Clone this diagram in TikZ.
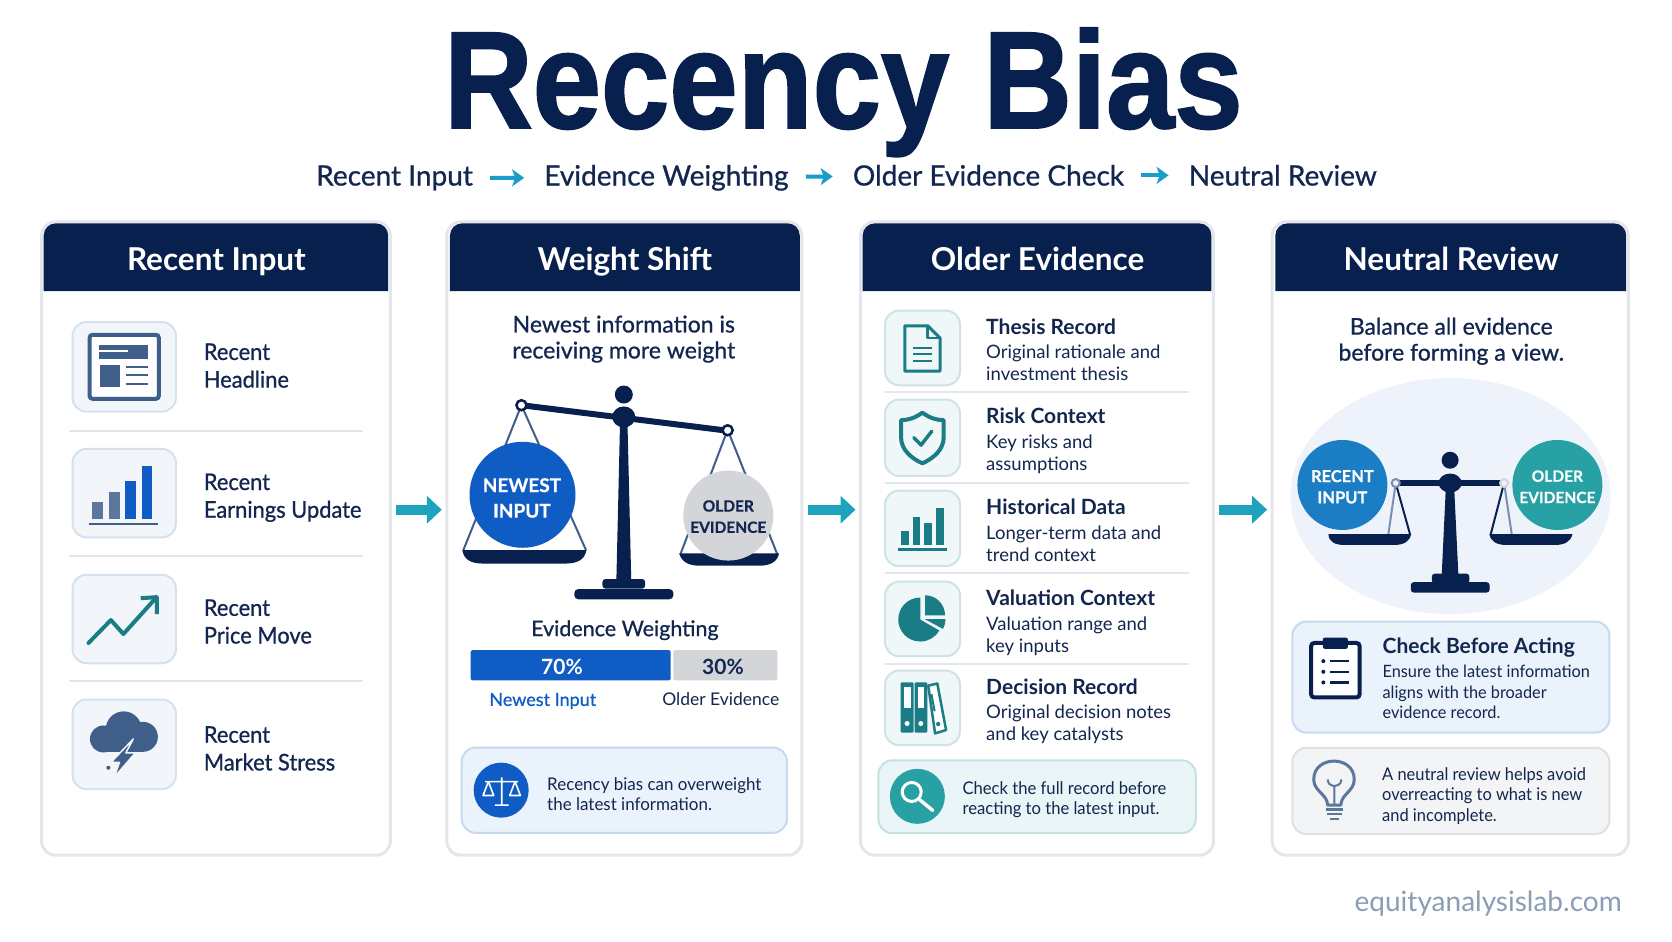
\documentclass[tikz,border=0pt]{standalone}
\usepackage{fontspec}
\setmainfont{Lato}
\newfontfamily\medfont[FakeBold=0.8]{Lato}
\newfontfamily\ballfont[FakeBold=0.6]{Lato Bold}
\newfontfamily\titlefont[FakeBold=1.5]{Liberation Sans Bold}
\usetikzlibrary{arrows.meta,calc,positioning,fit}

\definecolor{navy}{HTML}{08204D}
\definecolor{inktext}{HTML}{12264F}
\definecolor{panelline}{HTML}{E3E6EA}
\definecolor{flowteal}{HTML}{1DA3BE}
\definecolor{stepblue}{HTML}{1B9DC9}
\definecolor{slate}{HTML}{3F5F8A}
\definecolor{strongblue}{HTML}{0F5CC4}
\definecolor{softgray}{HTML}{D3D5D9}
\definecolor{darkteal}{HTML}{1A7D86}
\definecolor{midteal}{HTML}{27A1A4}
\definecolor{midblue}{HTML}{1B7DC4}
\definecolor{bluetileline}{HTML}{D6E1EE}
\definecolor{bluetilefill}{HTML}{F2F6FB}
\definecolor{tealtileline}{HTML}{CFE3E5}
\definecolor{tealtilefill}{HTML}{EFF7F8}
\definecolor{bluenoteline}{HTML}{C6D9F0}
\definecolor{bluenotefill}{HTML}{EAF2FB}
\definecolor{tealnoteline}{HTML}{C5E1E2}
\definecolor{tealnotefill}{HTML}{E9F5F6}
\definecolor{graynoteline}{HTML}{DFE1E5}
\definecolor{graynotefill}{HTML}{F3F4F6}
\definecolor{haloblue}{HTML}{EEF3FB}
\definecolor{sitegray}{HTML}{8A9DB5}

\tikzset{
  panelbox/.style={draw=panelline,line width=3pt,fill=white,rounded corners=14pt,inner sep=0pt,outer sep=0pt},
  bluetile/.style={draw=bluetileline,line width=2pt,fill=bluetilefill,rounded corners=14pt,inner sep=0pt,outer sep=0pt},
  tealtile/.style={draw=tealtileline,line width=2pt,fill=tealtilefill,rounded corners=14pt,inner sep=0pt,outer sep=0pt},
  bluenote/.style={draw=bluenoteline,line width=2pt,fill=bluenotefill,rounded corners=14pt,inner sep=0pt,outer sep=0pt},
  tealnote/.style={draw=tealnoteline,line width=2pt,fill=tealnotefill,rounded corners=14pt,inner sep=0pt,outer sep=0pt},
  graynote/.style={draw=graynoteline,line width=2pt,fill=graynotefill,rounded corners=14pt,inner sep=0pt,outer sep=0pt},
  headtext/.style={text=white,font=\fontsize{31.5}{34}\selectfont\bfseries,anchor=base,inner sep=0pt},
  steptext/.style={text=inktext,font=\fontsize{28}{32}\medfont,inner sep=0pt},
  listtext/.style={text=inktext,font=\fontsize{23}{27.7}\medfont,align=left,anchor=base west,xscale=.95,inner sep=0pt},
  leadtext/.style={text=inktext,font=\fontsize{23}{26}\medfont,align=center,inner sep=0pt},
  recordhead/.style={text=inktext,font=\fontsize{21}{24}\selectfont\bfseries,anchor=base west,inner sep=0pt},
  recordtext/.style={text=inktext,font=\fontsize{18.5}{22.2}\selectfont,align=left,anchor=base west,inner sep=0pt},
  notetext/.style={text=inktext,font=\fontsize{17.5}{20.5}\selectfont,align=left,anchor=west,inner sep=0pt},
  balltext/.style={font=\fontsize{19}{25.5}\ballfont,align=center,inner sep=0pt},
  flowarrow/.style={draw=flowteal,line width=10pt,-{Triangle[length=15pt,width=27pt]},shorten <=6pt,shorten >=5pt},
  steparrow/.style={draw=stepblue,line width=4pt,-{Stealth[length=12pt,width=17pt,inset=3pt]},shorten <=17pt,shorten >=20pt},
  divider/.style={draw=panelline,line width=2pt},
  stringline/.style={draw=slate,line width=2pt},
  iconline/.style={draw=darkteal,line width=4pt,fill=none,line join=round}
}

\begin{document}
\begin{tikzpicture}[x=1.0663pt,y=-1.0663pt]
\useasboundingbox (0,0) rectangle (1568,882.5);

% title and steps
\node[text=navy,inner sep=0pt,xscale=.89,font=\fontsize{138}{140}\titlefont,anchor=base] (maintitle) at (791,120) {Recency Bias};
\node[steptext,anchor=base] (stepA) at (370,174) {Recent Input};
\node[steptext,anchor=base] (stepB) at (625,174) {Evidence Weighting};
\node[steptext,anchor=base] (stepC) at (927,174) {Older Evidence Check};
\node[steptext,anchor=base] (stepD) at (1203,174) {Neutral Review};
\foreach \p/\q in {stepA/stepB,stepB/stepC,stepC/stepD}
  \draw[steparrow] (\p) -- (\q);

% panels
\node[panelbox,fit={(39,208) (366,802)}] (panelA) {};
\node[panelbox,fit={(419,208) (752,802)}] (panelB) {};
\node[panelbox,fit={(807,208) (1138,802)}] (panelC) {};
\node[panelbox,fit={(1193,208) (1527,802)}] (panelD) {};
\foreach \l/\r in {41/364,422/750,809/1136,1196/1525}
  \fill[navy] (\l,273) [rounded corners=12pt] -- (\l,209.5) -- (\r,209.5) [sharp corners] -- (\r,273) -- cycle;
\node[headtext] (headA) at (203,254) {Recent Input};
\node[headtext] (headB) at (586,254) {Weight Shift};
\node[headtext] (headC) at (973,254) {Older Evidence};
\node[headtext] (headD) at (1361,254) {Neutral Review};

\coordinate (flowline) at (0,478);
\foreach \p/\q in {panelA/panelB,panelB/panelC,panelC/panelD}
  \draw[flowarrow] (\p.east |- flowline) -- (\q.west |- flowline);

% recent input rows
\foreach \i/\a/\b/\m/\txt in {1/302/386/363.5/{Recent\\Headline},2/421/504/485.5/{Recent\\Earnings Update},3/539/622/603.5/{Recent\\Price Move},4/656/740/722.5/{Recent\\Market Stress}} {
  \node[bluetile,fit={(68,\a) (165,\b)}] (tile\i) {};
  \node[listtext] (rowtext\i) at (191,\m) {\txt};
}
\foreach \y in {404.5,521.5,639}
  \draw[divider] (65,\y) -- (340,\y);

% newspaper
\draw[draw=slate,line width=4pt,fill=white,rounded corners=3pt] (84,314) rectangle (149,374);
\fill[slate] (93,324) rectangle (139,337);
\draw[white,line width=1.5pt] (93,329) -- (120,329);
\fill[slate] (94,342) rectangle (113,363);
\foreach \y in {344,352,360}
  \draw[slate,line width=2.2pt] (118,\y) -- (139,\y);
% bars
\draw[slate,line width=2.5pt] (83,491.5) -- (148,491.5);
\fill[slate!85] (86,471) rectangle (97,487);
\fill[slate!85] (102,461) rectangle (113,487);
\fill[strongblue] (117,451) rectangle (128,487);
\fill[strongblue] (133,437) rectangle (143,487);
% trend
\draw[iconline,line cap=round] (83,603) -- (104,581.5) -- (115.7,594.6) -- (146,561);
\draw[iconline] (132,561) -- (147,560) -- (147,576);
% storm
\fill[slate] (116,684) circle[radius=18pt];
\fill[slate] (97,693) circle[radius=13.5pt];
\fill[slate] (134,691) circle[radius=15pt];
\fill[slate] (97,690) rectangle (134,705);
\filldraw[fill=slate,draw=bluetilefill,line width=1.5pt,line join=round] (125,693) -- (104,715) -- (112,715) -- (107,729) -- (127,706) -- (118,706) -- cycle;
\fill[slate] (101.6,720) circle[radius=2pt];

% weight shift panel
\node[leadtext] (leadB) at (585,318) {Newest information is\\receiving more weight};
\draw[stringline] (489,380) -- (434.5,516);
\draw[stringline] (489,380) -- (549.6,516);
\draw[stringline] (682.4,403) -- (638,520);
\draw[stringline] (682.4,403) -- (729,520);
\fill[navy] (433.6,516) -- (550,516) .. controls (548,526) and (540,528.5) .. (530,528.5) -- (453,528.5) .. controls (442,528.5) and (435,525) .. cycle;
\fill[navy] (637,519) -- (730.6,519) .. controls (729,527) and (722,530.5) .. (712,530.5) -- (656,530.5) .. controls (646,530.5) and (639,527) .. cycle;
\node[circle,fill=strongblue,minimum size=106pt,inner sep=0pt] (newestball) at (490,464) {};
\node[balltext,text=white] (newestlabel) at (489.5,467) {NEWEST\\INPUT};
\node[circle,fill=softgray,minimum size=90pt,inner sep=0pt] (olderball) at (683,483.5) {};
\node[balltext,text=inktext,font=\fontsize{15.5}{21.3}\ballfont] (olderlabel) at (683,484.5) {OLDER\\EVIDENCE};
\draw[navy,line width=6pt] (489,380) -- (683,404);
\fill[navy] (581.5,395) -- (588.4,395) -- (592,545) -- (578,545) -- cycle;
\fill[navy] (585,370) circle[radius=9pt];
\fill[navy] (585,391) ellipse[x radius=11.5pt,y radius=10.5pt];
\fill[navy,rounded corners=3pt] (565,552) -- (565,543) -- (605,543) -- (605,552) -- cycle;
\fill[navy,rounded corners=4pt] (538.6,562) -- (538.6,552.4) -- (631.5,552.4) -- (631.5,562) -- cycle;
\filldraw[fill=white,draw=navy,line width=2.5pt] (489,380) circle[radius=5pt];
\filldraw[fill=white,draw=navy,line width=2.5pt] (682.4,403.5) circle[radius=5pt];

\node[leadtext,font=\fontsize{21.5}{24}\medfont] (weightcap) at (586,591) {Evidence Weighting};
\fill[strongblue,rounded corners=2pt] (441.4,609.7) rectangle (629,638);
\fill[softgray,rounded corners=2pt] (631.5,609.7) rectangle (729,638);
\node[text=white,font=\fontsize{21}{24}\selectfont\bfseries,inner sep=0pt] (sharenew) at (527,625) {70\%};
\node[text=inktext,font=\fontsize{21}{24}\selectfont\bfseries,inner sep=0pt] (shareold) at (678,625) {30\%};
\node[text=strongblue,font=\fontsize{18}{20}\medfont,anchor=base,inner sep=0pt] (labelnew) at (509,662) {Newest Input};
\node[text=inktext,font=\fontsize{17.5}{20}\selectfont,anchor=base,inner sep=0pt] (labelold) at (676,662) {Older Evidence};

\node[bluenote,fit={(433,701) (738,781)}] (noteB) {};
\node[circle,fill=strongblue,minimum size=55pt,inner sep=0pt] (noteBdisc) at (470,741) {};
\draw[white,line width=1.6pt,line join=round] (470.5,729) -- (470.5,755) (464,755) -- (477,755) (455,733) -- (486,733)
  (458,733) -- (453,746) -- (463,746) -- cycle (483,733) -- (478,746) -- (488,746) -- cycle;
\node[notetext,xscale=.97] (noteBtext) at (513,744.5) {Recency bias can overweight\\the latest information.};

% older evidence rows
\foreach \i/\a/\b/\ty/\sy/\ttl/\txt in {
  1/291.3/361.3/314/357/{Thesis Record}/{Original rationale and\\investment thesis},
  2/374.7/446.3/397/441/{Risk Context}/{Key risks and\\assumptions},
  3/460/531/482.5/527/{Historical Data}/{Longer-term data and\\trend context},
  4/545.5/615.4/567.5/612/{Valuation Context}/{Valuation range and\\key inputs},
  5/628.9/698.8/651/694.5/{Decision Record}/{Original decision notes\\and key catalysts}} {
  \node[tealtile,fit={(830,\a) (900.3,\b)}] (record\i) {};
  \node[recordhead] (recordhead\i) at (924.7,\ty) {\ttl};
  \node[recordtext] (recordtext\i) at (924.7,\sy) {\txt};
}
\foreach \y in {367.4,452.8,537.8,622.4}
  \draw[divider] (830,\y) -- (1115.4,\y);

% document
\draw[iconline,line width=3pt] (848.5,305.5) -- (870,305.5) -- (881.6,317) -- (881.6,348) -- (848.5,348) -- cycle;
\draw[iconline,line width=2.5pt] (870,305.5) -- (870,317) -- (881.6,317);
\foreach \y in {326,332.4,339}
  \draw[darkteal,line width=2pt] (856,\y) -- (874.4,\y);
% shield
\draw[iconline] (865,387) .. controls (858,392) and (852,394) .. (845,394) -- (845,410) .. controls (845,422) and (855,430) .. (865,434.5) .. controls (875,430) and (885,422) .. (885,410) -- (885,394) .. controls (878,394) and (872,392) .. cycle;
\draw[iconline,line width=3.5pt,line cap=round] (857,410.5) -- (863.8,417.4) -- (873.8,404.4);
% bars
\draw[darkteal,line width=2.5pt] (842.5,515.4) -- (888.5,515.4);
\foreach \l/\r/\t in {845.3/852.5/497.5,856.6/863.1/484.5,866.9/874.4/490.6,877.5/885/476.4}
  \fill[darkteal] (\l,\t) rectangle (\r,511);
% pie
\fill[darkteal] (863,581) -- ++(90:22pt) arc[start angle=90,end angle=330,radius=22pt] -- cycle;
\fill[darkteal] (867.5,577) -- ++(90:20pt) arc[start angle=90,end angle=0,radius=20pt] -- cycle;
\fill[darkteal] (867,580.5) -- ++(0:21pt) arc[start angle=0,end angle=-28,radius=21pt] -- cycle;
% binders
\fill[darkteal,rounded corners=1pt] (844.7,640) rectangle (856.7,687);
\fill[darkteal,rounded corners=1pt] (857.7,640) rectangle (869.7,687);
\foreach \l/\r in {848/854,860.5/866.5} {
  \fill[white] (\l,644) rectangle (\r,664);
}
\foreach \x in {850.7,863.5}
  \fill[white] (\x,678.5) circle[radius=2.5pt];
\filldraw[fill=white,draw=darkteal,line width=2.5pt,line join=round] (870.5,643) -- (879,641) -- (887.2,684.6) -- (876.9,687.8) -- cycle;
\draw[darkteal,line width=2pt] (873.5,651) -- (876.5,667);
\fill[darkteal] (879.8,679) circle[radius=2.2pt];

\node[tealnote,fit={(823.8,713) (1121.4,781.4)}] (noteC) {};
\node[circle,fill=midteal,minimum size=55pt,inner sep=0pt] (noteCdisc) at (860.3,746.8) {};
\draw[white,line width=3pt] (855,742.7) circle[radius=9.5pt];
\draw[white,line width=3.5pt,line cap=round] (862.5,750) -- (874.7,760);
\node[notetext,xscale=.95] (noteCtext) at (902.5,750) {Check the full record before\\reacting to the latest input.};

% neutral review panel
\node[leadtext] (leadD) at (1361,320) {Balance all evidence\\before forming a view.};
\fill[haloblue] (1360.2,465.2) ellipse[x radius=160pt,y radius=118pt];
\draw[stringline,draw=slate!70] (1308.9,453) -- (1302,501);
\draw[stringline,draw=navy] (1308.9,453) -- (1322.3,501);
\draw[stringline,draw=navy] (1410.5,453) -- (1398,501);
\draw[stringline,draw=slate!70] (1410.5,453) -- (1417.7,501);
\fill[navy] (1245.8,501) -- (1323.3,501) .. controls (1322,508) and (1316,511) .. (1308,511) -- (1260,511) .. controls (1252,511) and (1246,508) .. cycle;
\fill[navy] (1396.7,501) -- (1474.6,501) .. controls (1473,508) and (1467,511) .. (1459,511) -- (1412,511) .. controls (1404,511) and (1398,508) .. cycle;
\node[circle,fill=midblue,minimum size=90pt,inner sep=0pt] (recentball) at (1258.9,454.8) {};
\node[balltext,text=white,font=\fontsize{16.5}{21.3}\ballfont] (recentlabel) at (1258.9,456.5) {RECENT\\INPUT};
\node[circle,fill=midteal,minimum size=90pt,inner sep=0pt] (evidenceball) at (1460.5,454.8) {};
\node[balltext,text=white,font=\fontsize{15.5}{21.3}\ballfont] (evidencelabel) at (1460.5,456.5) {OLDER\\EVIDENCE};
\draw[navy,line width=6pt] (1308.9,453) -- (1410.5,453);
\fill[navy] (1356,455) -- (1363.6,455) -- (1367.7,540) -- (1352,540) -- cycle;
\fill[navy] (1359.9,431.6) circle[radius=8.5pt];
\fill[navy] (1359.9,453) ellipse[x radius=11.5pt,y radius=9.5pt];
\fill[navy,rounded corners=3pt] (1342.7,547) -- (1342.7,538) -- (1378,538) -- (1378,547) -- cycle;
\fill[navy,rounded corners=3pt] (1323,555.7) -- (1323,546) -- (1397,546) -- (1397,555.7) -- cycle;
\filldraw[fill=haloblue,draw=slate!70,line width=2pt] (1308.9,453) circle[radius=4pt];
\filldraw[fill=haloblue,draw=softgray,line width=2pt] (1410.5,453) circle[radius=4pt];

\node[bluenote,fit={(1212,582.9) (1509.3,687)}] (noteD) {};
\node[recordhead] (noteDhead) at (1296.4,613) {Check Before Acting};
\node[recordtext,font=\fontsize{17}{20.5}\selectfont,xscale=.96] (noteDtext) at (1296.4,674) {Ensure the latest information\\aligns with the broader\\evidence record.};
\draw[draw=navy,line width=4pt,fill=white,rounded corners=3pt] (1229.6,603) rectangle (1275,654);
\fill[navy,rounded corners=2pt] (1240.5,598) rectangle (1264,608.5);
\foreach \y in {620,630,640} {
  \fill[navy] (1241,\y) circle[radius=2pt];
  \draw[navy,line width=2.2pt] (1247.3,\y) -- (1265.5,\y);
}

\node[graynote,fit={(1212,701.3) (1509.3,782.2)}] (noteE) {};
\draw[draw=slate!85,line width=3pt,line join=round,line cap=round] (1245,755) .. controls (1245,745) and (1232,742) .. (1232,731) .. controls (1232,708) and (1270,708) .. (1270,731) .. controls (1270,742) and (1257.5,745) .. (1257.5,755) -- cycle;
\draw[draw=slate!85,line width=2pt] (1251.4,755) -- (1251.4,737) (1245,731) .. controls (1245,737) and (1251.4,737) .. (1251.4,737) .. controls (1251.4,737) and (1258,737) .. (1258,731);
\draw[draw=slate!85,line width=2.5pt] (1243.5,759) -- (1259.5,759) (1244.5,763.5) -- (1258.5,763.5) (1247,768) -- (1256,768);
\node[notetext,xscale=.94] (noteEtext) at (1296,746.5) {A neutral review helps avoid\\overreacting to what is new\\and incomplete.};

\node[text=sitegray,font=\fontsize{28}{32}\selectfont,anchor=east,inner sep=0pt] (siteline) at (1521,847) {equityanalysislab.com};

\end{tikzpicture}
\end{document}
